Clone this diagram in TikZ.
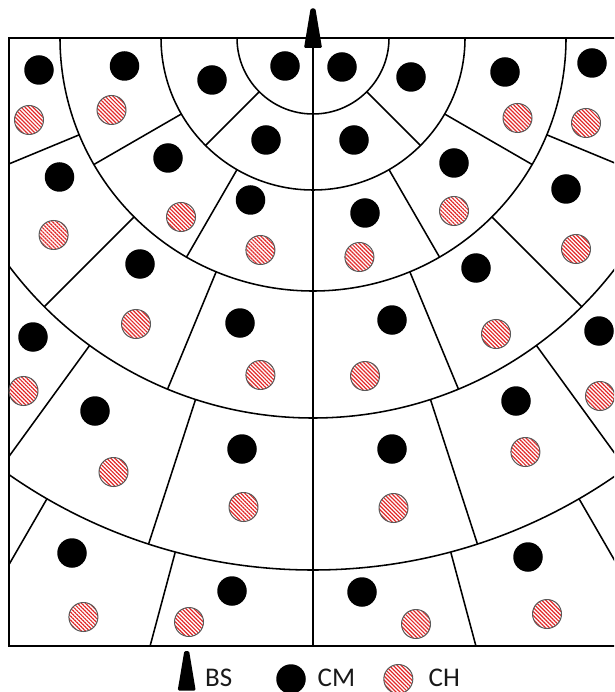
\documentclass[tikz,border=0pt]{standalone}
\usepackage{fontspec}
\newfontfamily\lgdfont{Carlito}
\usetikzlibrary{patterns.meta}
\definecolor{hatchred}{RGB}{225,40,40}
\begin{document}
\begin{tikzpicture}[x=1pt,y=-1pt,
  cmdot/.style={circle, fill=black, minimum size=29.5pt, inner sep=0pt},
  chdot/.style={circle, draw=black!65, line width=1pt,
    pattern={Lines[angle=-45,distance=2.8pt,line width=1.2pt]},
    pattern color=hatchred, minimum size=29pt, inner sep=0pt},
  frameline/.style={line width=1.8pt},
  cellline/.style={line width=1.55pt},
  lgd/.style={font=\lgdfont\fontsize{27}{30}\selectfont, inner sep=0pt, anchor=base west, text=black!90},
  bsmark/.pic={\fill[rounded corners=1.3pt] (-9,0) -- (-2.4,-39.5) -- (2.4,-39.5) -- (9,0) -- cycle;}
]
\useasboundingbox (0,0) rectangle (614,692);
\clip (0,0) rectangle (614,692);
\coordinate (C) at (313,38);
\coordinate (fTL) at (9,38);
\coordinate (fBR) at (625,646);
\coordinate (bsbase) at (313,48);
\coordinate (bot) at (313,646);
\draw[frameline] (fTL) rectangle (fBR);
\begin{scope}
  \clip (fTL) rectangle (fBR);
  \foreach \r in {76,152,253,380,532} \draw[cellline] (C) circle[radius=\r pt];
  \begin{scope}[shift={(C)}]
    \foreach \a in {45,135} \draw[cellline] (\a:76) -- (\a:152);
    \foreach \a in {30,60,120,150} \draw[cellline] (\a:152) -- (\a:253);
    \foreach \a in {22.5,45,67.5,112.5,135,157.5} \draw[cellline] (\a:253) -- (\a:380);
    \foreach \a in {18,36,54,72,108,126,144,162} \draw[cellline] (\a:380) -- (\a:532);
    \foreach \a in {15,30,45,60,75,105,120,135,150,165} \draw[cellline] (\a:532) -- (\a:900);
  \end{scope}
\end{scope}
\draw[cellline] (bsbase) -- (bot);
\pic at (bsbase) {bsmark};
% CM nodes
\foreach \x/\y [count=\i] in {39/70, 124.5/66, 212/80, 285/66, 342/67, 411/77, 505/72, 592/63,
  59.5/177, 168/158, 266/140, 354/140, 454/163, 566/189, 250.5/200, 365/213,
  140/264, 476/268, 240/323, 392/320, 33/337, 599/331,
  95/411, 516/401, 242/449, 392/449, 72/553, 232/591, 362/592, 528/557}
  \node[cmdot] (m\i) at (\x,\y) {};
% CH nodes
\foreach \x/\y [count=\i] in {29/120, 111.5/110, 517.5/118, 586/123,
  181/217, 454/211, 53.6/235, 260.4/250, 576/249, 359.4/257,
  136/324, 496/334, 260.4/375, 365/376, 23.5/391, 600/396,
  113.5/472, 525.4/452, 243.5/507, 393.5/508,
  83.4/617, 189/622, 416/624, 547/614}
  \node[chdot] (h\i) at (\x,\y) {};
% legend
\coordinate (lgbs) at (186.7,690.5);
\pic at (lgbs) {bsmark};
\node[lgd] (tbs) at (205,686.7) {BS};
\node[cmdot] (lgcm) at (291,679) {};
\node[lgd] (tcm) at (317.5,686.7) {CM};
\node[chdot] (lgch) at (398.3,679) {};
\node[lgd] (tch) at (428.5,686.7) {CH};
\end{tikzpicture}
\end{document}
